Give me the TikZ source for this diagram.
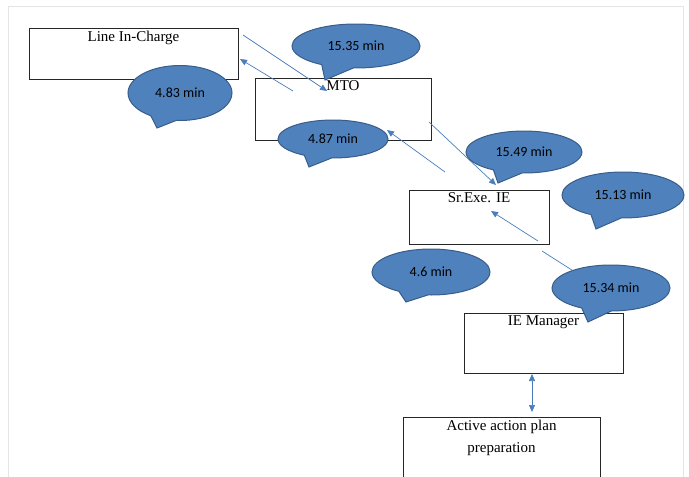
\documentclass[tikz,border=0pt]{standalone}
\usepackage{fontspec}
\setmainfont{Liberation Serif}
\newfontfamily\calfont{Carlito}
\usetikzlibrary{arrows.meta,shapes.callouts}

\definecolor{calloutfill}{HTML}{4F81BD}
\definecolor{calloutline}{HTML}{385D8A}
\definecolor{flowline}{HTML}{4A7EBB}

\tikzset{
  stagebox/.style={draw=black!85, line width=0.9pt, fill=white, inner sep=0pt},
  stagetext/.style={anchor=north, inner sep=3pt, align=center,
    font=\fontsize{15}{22}\selectfont},
  timebubble/.style={ellipse callout, draw=calloutline, line width=1pt,
    fill=calloutfill, inner sep=0pt, callout pointer arc=30,
    font=\calfont\fontsize{14}{16}\selectfont},
  flow/.style={draw=flowline, line width=0.7pt,
    -{Triangle[length=7pt,width=6pt]}}
}

\begin{document}
\begin{tikzpicture}[x=1pt,y=-1pt]
    \useasboundingbox (0,0) rectangle (689,477);
    % Outer frame
    \draw[black!10] (8,6) rectangle (683,495);

    % Stages
    \node[stagebox, minimum width=209pt, minimum height=51pt] (lic) at (133.5,53.5)
        {};
    \node[stagetext] (licT) at (lic.north) {Line In-Charge};
    \node[stagebox, minimum width=176pt, minimum height=62pt] (mto) at (343,109) {};
    \node[stagetext] (mtoT) at (mto.north) {MTO};
    \node[stagebox, minimum width=140pt, minimum height=54pt] (sie) at (479,217) {};
    \node[stagetext] (sieT) at (sie.north) {Sr.Exe. IE};
    \node[stagebox, minimum width=159pt, minimum height=60pt] (iem) at (543.5,343) {};
    \node[stagetext] (iemT) at (iem.north) {IE Manager};
    \node[stagebox, minimum width=197pt, minimum height=80pt] (aap) at (501.5,457) {};
    \node[stagetext] (aapT) at (aap.north) {Active action plan\\preparation};

    % Ends of the hand-over arrows
    \coordinate (licOut) at (243,35);
    \coordinate (mtoIn) at (327,91);
    \coordinate (mtoBack) at (293,91);
    \coordinate (licIn) at (240,59);
    \coordinate (mtoOut) at (429,122);
    \coordinate (sieIn) at (496,185);
    \coordinate (sieBack) at (445,172);
    \coordinate (mtoRet) at (387,130);
    \coordinate (iemOut) at (538,241);
    \coordinate (sieRet) at (491,211);
    \coordinate (iemLine) at (542,251);
    \coordinate (iemLow) at (532,374);
    \coordinate (aapTop) at (532,412);

    \draw[flow] (licOut) -- (mtoIn);
    \draw[flow] (mtoBack) -- (licIn);
    \draw[flow] (mtoOut) -- (sieIn);
    \draw[flow] (sieBack) -- (mtoRet);
    \draw[flow] (iemOut) -- (sieRet);
    \draw[draw=flowline, line width=0.7pt] (iemLine) -- (600,288);
    \draw[flow, {Triangle[length=7pt,width=6pt]}-{Triangle[length=7pt,width=6pt]}]
        (iemLow) -- (aapTop);

    % Time bubbles
    \node[timebubble, minimum width=128pt, minimum height=44pt,
        callout absolute pointer={(325,80)}] (t1) at (356,46) {15.35 min};
    \node[timebubble, minimum width=104pt, minimum height=55pt,
        callout absolute pointer={(157,128)}] (t2) at (180,93) {4.83 min};
    \node[timebubble, minimum width=110pt, minimum height=38pt,
        callout absolute pointer={(309,167)}] (t3) at (333,139) {4.87 min};
    \node[timebubble, minimum width=116pt, minimum height=42pt,
        callout absolute pointer={(498,183)}] (t4) at (524,152) {15.49 min};
    \node[timebubble, minimum width=122pt, minimum height=46pt,
        callout absolute pointer={(596,229)}] (t5) at (623,195) {15.13 min};
    \node[timebubble, minimum width=118pt, minimum height=46pt,
        callout absolute pointer={(406,302)}] (t6) at (431,272) {4.6 min};
    \node[timebubble, minimum width=118pt, minimum height=46pt,
        callout absolute pointer={(588,322)}] (t7) at (611,288) {15.34 min};
\end{tikzpicture}
\end{document}
